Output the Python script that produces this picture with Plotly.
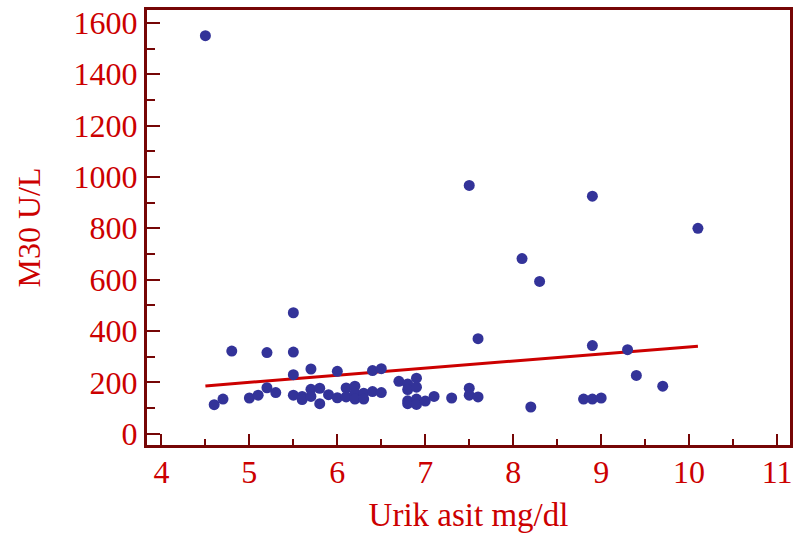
import plotly.graph_objects as go

# Data
urik_asit = [4.5, 4.6, 4.7, 4.8, 5.0, 5.1, 5.2, 5.2, 5.3, 5.5, 5.5, 5.5, 5.5,
             5.6, 5.6, 5.7, 5.7, 5.7, 5.8, 5.8, 5.9, 6.0, 6.0, 6.1, 6.1,
             6.2, 6.2, 6.2, 6.3, 6.3, 6.4, 6.4, 6.5, 6.5, 6.7, 6.8, 6.8,
             6.8, 6.8, 6.9, 6.9, 6.9, 6.9, 7.0, 7.1, 7.3, 7.5, 7.5, 7.5,
             7.6, 7.6, 8.1, 8.2, 8.3, 8.8, 8.9, 8.9, 8.9, 9.0, 9.3, 9.4,
             9.7, 10.1]
m30 = [1550, 113, 135, 322, 139, 150, 316, 179, 160, 471, 318, 230, 150,
       145, 133, 252, 173, 145, 177, 117, 152, 243, 140, 178, 143,
       185, 158, 135, 158, 135, 246, 164, 253, 160, 204, 194, 172,
       128, 117, 216, 181, 135, 114, 127, 145, 139, 967, 177, 150,
       370, 143, 682, 104, 593, 135, 925, 343, 135, 139, 327, 227,
       185, 800]

fit_x = [4.5, 10.1]
fit_y = [186, 341]

x_ticks = [4, 5, 6, 7, 8, 9, 10, 11]
y_ticks = [0, 200, 400, 600, 800, 1000, 1200, 1400, 1600]

RED = "#cc0000"
FRAME = "#760606"
FONT = "Liberation Serif"

fig = go.Figure()
fig.add_trace(go.Scatter(x=fit_x, y=fit_y, mode="lines",
                         line=dict(color=RED, width=3), showlegend=False))
fig.add_trace(go.Scatter(x=urik_asit, y=m30, mode="markers",
                         marker=dict(color="#333399", size=11, line=dict(width=0)),
                         showlegend=False))

fig.update_layout(
    width=798, height=545,
    margin=dict(l=147, r=5, t=5, b=100),
    paper_bgcolor="white", plot_bgcolor="white",
    font=dict(family=FONT, color=RED, size=32),
)
fig.update_xaxes(
    range=[3.836, 11.147], tickvals=x_ticks, ticktext=[str(v) for v in x_ticks],
    showgrid=False, zeroline=False,
    showline=True, linecolor=FRAME, linewidth=3, mirror=True,
    ticks="inside", ticklen=11, tickwidth=2.2, tickcolor=FRAME,
    minor=dict(ticks="inside", dtick=0.5, tick0=4, ticklen=6, tickwidth=2.2, tickcolor=FRAME),
    tickfont=dict(family=FONT, color=RED, size=32),
    ticklabelstandoff=-3,
    title=dict(text="Urik asit mg/dl", font=dict(family=FONT, color=RED, size=33), standoff=14),
)
fig.update_yaxes(
    range=[-44, 1650], tickvals=y_ticks, ticktext=[str(v) for v in y_ticks],
    showgrid=False, zeroline=False,
    showline=True, linecolor=FRAME, linewidth=3, mirror=True,
    ticks="inside", ticklen=13, tickwidth=2.2, tickcolor=FRAME,
    minor=dict(ticks="inside", dtick=100, tick0=0, ticklen=8, tickwidth=2.2, tickcolor=FRAME),
    tickfont=dict(family=FONT, color=RED, size=32),
    title=dict(text="M30 U/L", font=dict(family=FONT, color=RED, size=32), standoff=24),
)

fig.write_html("out.html")
